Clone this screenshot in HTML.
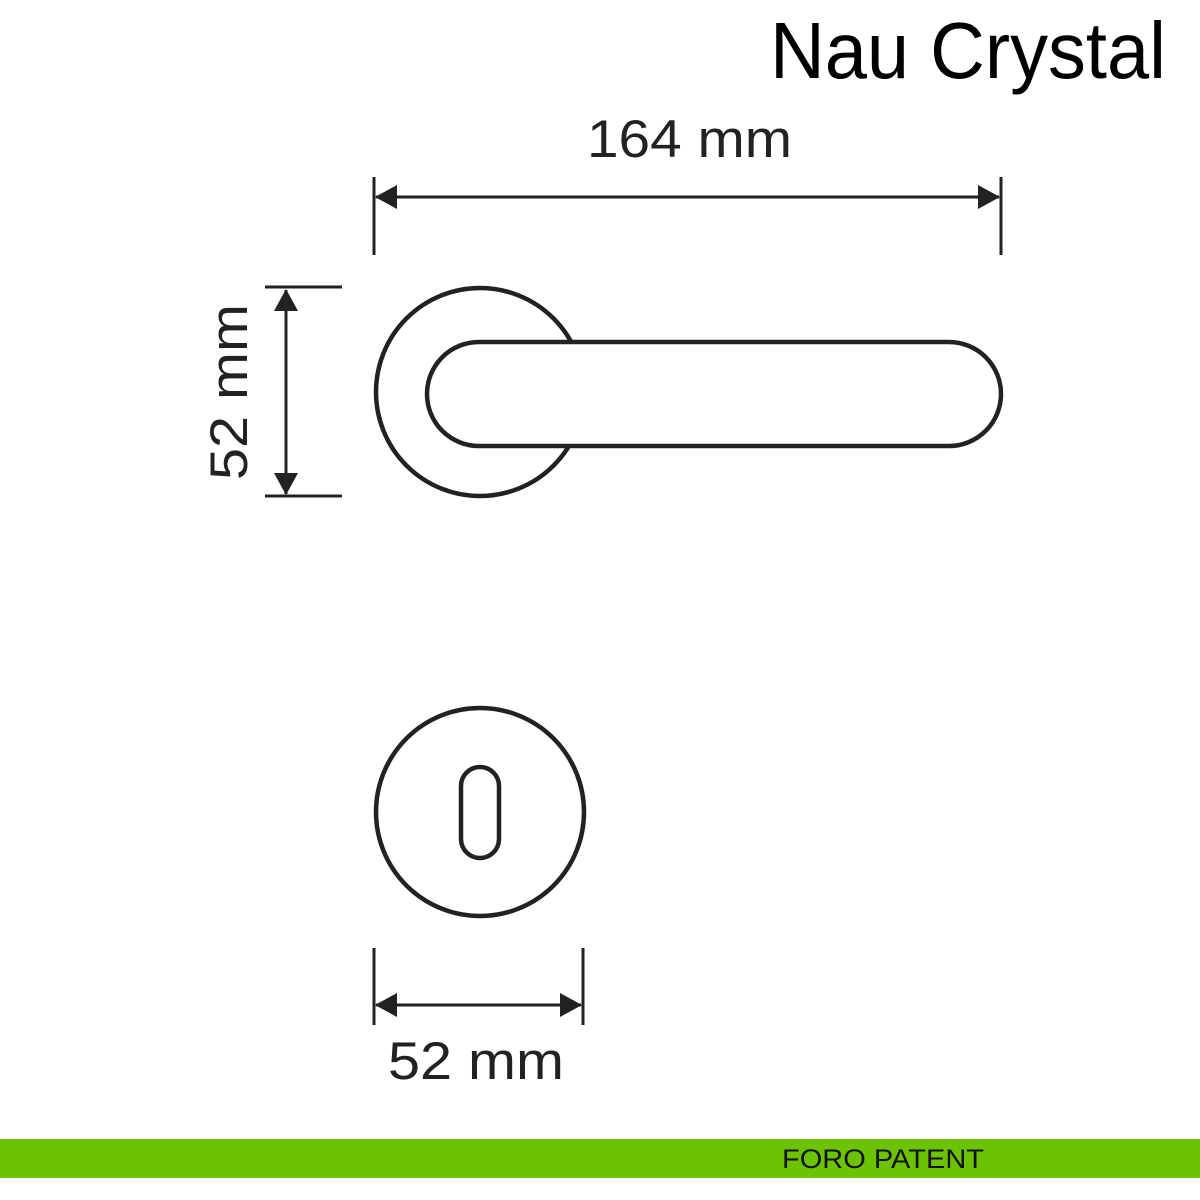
<!DOCTYPE html>
<html><head><meta charset="utf-8"><style>
html,body{margin:0;padding:0;background:#fff;width:1200px;height:1200px;overflow:hidden}
</style></head><body>
<svg width="1200" height="1200" viewBox="0 0 1200 1200" xmlns="http://www.w3.org/2000/svg" font-family="Liberation Sans, sans-serif">
<rect width="1200" height="1200" fill="#fff"/>
<text x="1166" y="78" font-size="80" text-anchor="end" textLength="396" lengthAdjust="spacingAndGlyphs" fill="#000">Nau Crystal</text>
<text x="587" y="157" font-size="53" textLength="205" lengthAdjust="spacingAndGlyphs" fill="#222">164 mm</text>
<!-- top dimension -->
<g stroke="#222" stroke-width="3" fill="none">
<line x1="374" y1="177" x2="374" y2="255"/>
<line x1="1001" y1="177" x2="1001" y2="255"/>
<line x1="376" y1="197" x2="999" y2="197"/>
<line x1="286" y1="290" x2="286" y2="494"/>
<line x1="265" y1="287" x2="342" y2="287"/>
<line x1="265" y1="496" x2="342" y2="496"/>
<line x1="374" y1="948" x2="374" y2="1025"/>
<line x1="583" y1="948" x2="583" y2="1025"/>
<line x1="376" y1="1005" x2="581" y2="1005"/>
</g>
<g fill="#222">
<polygon points="375,197 397,185 397,209"/>
<polygon points="1000,197 978,185 978,209"/>
<polygon points="286,289 274,311 298,311"/>
<polygon points="286,495 274,473 298,473"/>
<polygon points="375,1005 397,993 397,1017"/>
<polygon points="582,1005 560,993 560,1017"/>
</g>
<text transform="translate(247,392) rotate(-90)" font-size="53" text-anchor="middle" textLength="176" lengthAdjust="spacingAndGlyphs" fill="#222">52 mm</text>
<text x="476" y="1079" font-size="53" text-anchor="middle" textLength="176" lengthAdjust="spacingAndGlyphs" fill="#222">52 mm</text>
<!-- handle -->
<circle cx="480" cy="392" r="104" fill="#fff" stroke="#222" stroke-width="4.5"/>
<rect x="427" y="342" width="574" height="104" rx="52" fill="#fff" stroke="#222" stroke-width="4.5"/>
<!-- key rosette -->
<circle cx="480" cy="812" r="104" fill="#fff" stroke="#222" stroke-width="4.5"/>
<rect x="461" y="767" width="38" height="91" rx="19" fill="none" stroke="#222" stroke-width="4.5"/>
<!-- green bar -->
<rect x="0" y="1139" width="1200" height="39" fill="#6cc304"/>
<text x="782" y="1168" font-size="27" textLength="202" lengthAdjust="spacingAndGlyphs" fill="#111">FORO PATENT</text>
</svg>
</body></html>
